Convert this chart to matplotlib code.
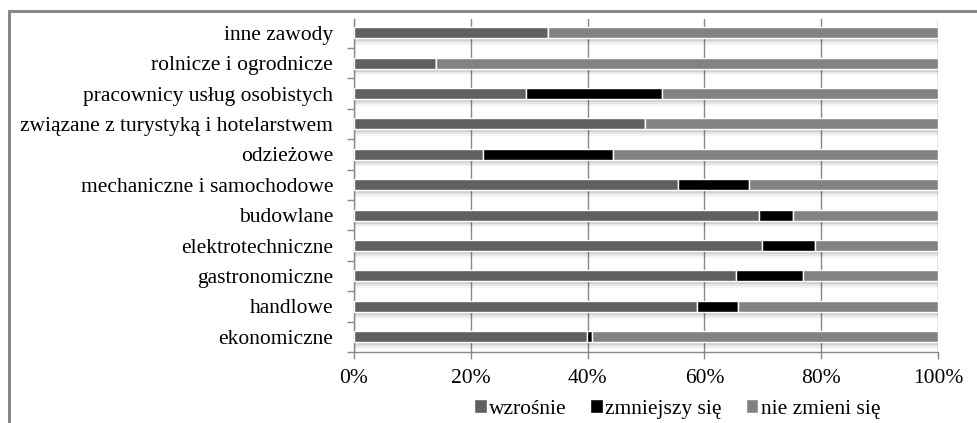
import matplotlib
matplotlib.use("Agg")
import matplotlib.pyplot as plt
import numpy as np
from matplotlib.patches import Patch, Rectangle

# categories bottom -> top
categories = [
    "ekonomiczne",
    "handlowe",
    "gastronomiczne",
    "elektrotechniczne",
    "budowlane",
    "mechaniczne i samochodowe",
    "odzieżowe",
    "związane z turystyką i hotelarstwem",
    "pracownicy usług osobistych",
    "rolnicze i ogrodnicze",
    "inne zawody",
]
wzrosnie = [39.9, 58.8, 65.4, 69.8, 69.3, 55.5, 22.1, 49.9, 29.4, 14.1, 33.2]
zmniejszy = [0.9, 7.0, 11.4, 9.2, 5.8, 12.2, 22.3, 0.0, 23.4, 0.0, 0.0]
nie_zmieni = [59.2, 34.2, 23.2, 21.0, 24.9, 32.3, 55.6, 50.1, 47.2, 85.9, 66.8]
series_names = ["wzrośnie", "zmniejszy się", "nie zmieni się"]
colors = ["#606060", "#000000", "#828282"]
xticks = [0, 20, 40, 60, 80, 100]

plt.rcParams["font.family"] = ["Liberation Serif", "DejaVu Serif"]
FS = 15.5

W, H = 977, 423
fig = plt.figure(figsize=(W / 100, H / 100), dpi=100, facecolor="white")
ax = fig.add_axes([354 / W, 1 - 352 / H, (938 - 354) / W, (352 - 19) / H])

y = np.arange(len(categories))
bar_h = 0.36

# soft drop shadow under each bar
for dy, a in [(0.10, 0.09), (0.16, 0.06), (0.22, 0.04)]:
    ax.barh(y - dy, 100, height=bar_h, color="black", alpha=a, linewidth=0, zorder=1)

left = np.zeros(len(categories))
for vals, c in zip([wzrosnie, zmniejszy, nie_zmieni], colors):
    vals = np.array(vals)
    ax.barh(y, vals, left=left, height=bar_h, color=c, edgecolor="white",
            linewidth=1.0, zorder=3)
    left += vals

ax.set_xlim(0, 100)
ax.set_ylim(-0.47, len(categories) - 0.55)
ax.set_xticks(xticks)
ax.set_xticklabels([f"{t}%" for t in xticks], fontsize=FS)
ax.set_yticks(y)
ax.set_yticklabels(categories, fontsize=FS)
ax.tick_params(axis="y", length=0, pad=15)
ax.set_yticks(np.arange(len(categories)) - 0.5, minor=True)
ax.tick_params(axis="y", which="minor", length=5, color="#888888", width=1)
ax.tick_params(axis="x", length=5, color="#888888", width=1, pad=7)
ax.grid(axis="x", color="#888888", linewidth=1, zorder=0)
ax.set_axisbelow(True)
for s in ["top", "right"]:
    ax.spines[s].set_visible(False)
for s in ["left", "bottom"]:
    ax.spines[s].set_color("#888888")
    ax.spines[s].set_linewidth(1)

handles = [Patch(facecolor=c, edgecolor="white") for c in colors]
fig.legend(handles, series_names, loc="center", ncol=3, frameon=False,
           bbox_to_anchor=(677 / W, 1 - 409 / H), fontsize=FS,
           handlelength=0.6, handleheight=0.6, handletextpad=0.1,
           columnspacing=1.1)

fig.add_artist(Rectangle((9 / W, -0.2), 1.5, 1.2 - 11 / H, fill=False,
                         edgecolor="#888888", linewidth=2.2,
                         transform=fig.transFigure))

fig.savefig("out.png", dpi=100, facecolor="white")
